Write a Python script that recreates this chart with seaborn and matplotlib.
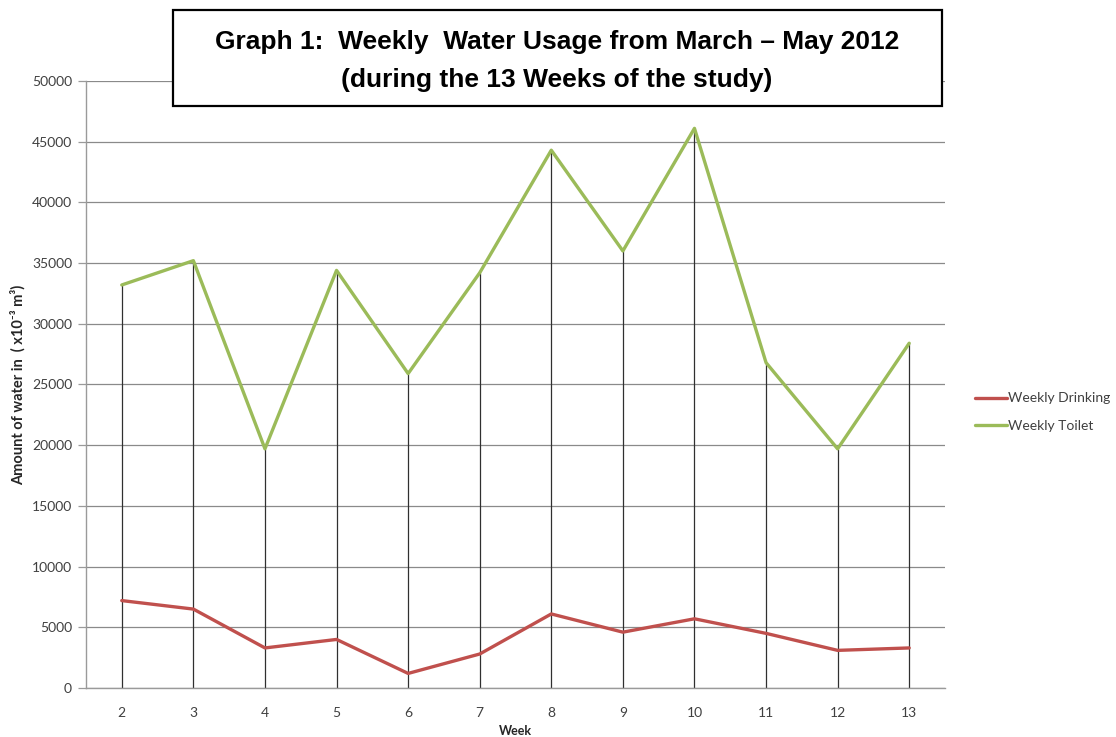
import matplotlib
matplotlib.use("Agg")
import matplotlib.pyplot as plt
import matplotlib.patches as mpatches
import seaborn as sns
import pandas as pd

weeks = [2, 3, 4, 5, 6, 7, 8, 9, 10, 11, 12, 13]
drinking = [7200, 6500, 3300, 4000, 1200, 2800, 6100, 4600, 5700, 4500, 3100, 3300]
toilet = [33200, 35200, 19700, 34400, 25900, 34200, 44300, 36000, 46100, 26800, 19700, 28400]
series_names = ["Weekly Drinking", "Weekly Toilet"]
title_lines = ["Graph 1:  Weekly  Water Usage from March \u2013 May 2012",
               "(during the 13 Weeks of the study)"]
yticks = list(range(0, 50001, 5000))

sns.set_theme(style="white")
plt.rcParams['font.family'] = ['Lato', 'DejaVu Sans']
title_font = ['Liberation Sans', 'DejaVu Sans']

df = pd.DataFrame({
    "Week": weeks * 2,
    "Value": drinking + toilet,
    "Series": [series_names[0]] * len(weeks) + [series_names[1]] * len(weeks),
})

fig = plt.figure(figsize=(11.16, 7.37), dpi=100)
ax = fig.add_axes([86/1116, 1-688/737, (945-86)/1116, (688-81)/737])

# drop lines from toilet series
ax.vlines(weeks, 0, toilet, colors="#303030", linewidth=0.9, zorder=1)

sns.lineplot(data=df, x="Week", y="Value", hue="Series",
             palette=["#C0504D", "#9BBB59"], linewidth=2.4, ax=ax, zorder=3)

ax.set_xlim(1.5, 13.5)
ax.set_ylim(0, 50000)
ax.set_xticks(weeks)
ax.set_xticklabels([str(w) for w in weeks])
ax.set_yticks(yticks)
ax.set_yticklabels([str(v) for v in yticks])
ax.yaxis.grid(True, color="#8a8a8a", linewidth=0.9)
ax.xaxis.grid(False)
for s in ["top", "right"]:
    ax.spines[s].set_visible(False)
for s in ["left", "bottom"]:
    ax.spines[s].set_color("#9a9a9a")
    ax.spines[s].set_linewidth(1.0)
ax.tick_params(axis="y", which="both", left=True, length=6, width=0.9, color="#9a9a9a",
               labelsize=10, labelcolor="#404040", pad=4)
ax.tick_params(axis="x", bottom=False, labelsize=10, labelcolor="#404040", pad=8)

ax.set_xlabel("Week", fontsize=9, fontweight="bold", color="#262626")
ax.xaxis.set_label_coords(0.5, -(731-688)/607, transform=ax.transAxes)
ax.xaxis.label.set_va("center")
ax.set_ylabel("Amount of water in  ( x10\u207b\u00b3 m\u00b3)", fontsize=10.5, fontweight="bold",
              color="#262626")
ax.yaxis.set_label_coords(-(86-18)/859, 0.5)
ax.yaxis.label.set_va("center")

leg = ax.legend(loc="center left", bbox_to_anchor=((975-86)/859, (688-412)/607),
                frameon=False, borderaxespad=0, borderpad=0,
                fontsize=10, handlelength=2.3, handletextpad=0.1, labelspacing=1.1)
for t in leg.get_texts():
    t.set_color("#404040")

# title box
rect = mpatches.Rectangle((173/1116, 1-106/737), (942-173)/1116, 96/737,
                          transform=fig.transFigure, facecolor="white",
                          edgecolor="black", linewidth=1.6, zorder=10)
fig.patches.append(rect)
fig.text(557/1116, 1-42/737, title_lines[0], ha="center", va="center", color="black",
         fontsize=19, fontweight="bold", family=title_font, zorder=11)
fig.text(557/1116, 1-80/737, title_lines[1], ha="center", va="center", color="black",
         fontsize=19, fontweight="bold", family=title_font, zorder=11)

fig.savefig("out.png", dpi=100)
